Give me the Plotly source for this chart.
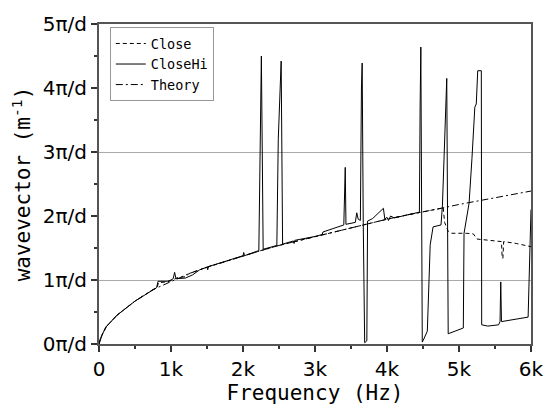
import plotly.graph_objects as go

# ---- data (frequency in Hz, wavevector in units of pi/d) ----
theory_f = [0, 20, 50, 100, 250, 500, 750, 1000, 1250, 1500, 1750, 2000, 2250, 2500,
            2750, 3000, 3250, 3500, 3750, 4000, 4250, 4500, 4750, 5000, 5250, 5500,
            5750, 6000]
theory_k = [0.0, 0.09, 0.16, 0.27, 0.45, 0.67, 0.85, 0.98, 1.10, 1.20, 1.29, 1.38,
            1.46, 1.54, 1.61, 1.68, 1.75, 1.82, 1.89, 1.95, 2.01, 2.06, 2.12, 2.18,
            2.23, 2.29, 2.34, 2.39]

close_f = [0, 20, 50, 100, 250, 500, 750, 800, 830, 950, 1000, 1100, 1200, 1250,
           1500, 1750, 2000, 2250, 2500, 2750, 3000, 3250, 3500, 3750, 4000, 4250,
           4500, 4750, 4780, 4800, 4850, 4900, 5100, 5200, 5250, 5400, 5590, 5600,
           5610, 5620, 5800, 6000]
close_k = [0.0, 0.09, 0.16, 0.27, 0.45, 0.67, 0.85, 0.87, 0.96, 0.97, 0.99, 1.04,
           1.05, 1.10, 1.20, 1.29, 1.38, 1.46, 1.54, 1.61, 1.68, 1.75, 1.82, 1.89,
           1.95, 2.01, 2.06, 2.12, 2.14, 1.90, 1.76, 1.73, 1.73, 1.72, 1.64, 1.62,
           1.60, 1.34, 1.34, 1.60, 1.57, 1.52]

closehi_f = [0, 20, 50, 100, 250, 500, 750, 800, 820, 950, 1000, 1030, 1050, 1070,
             1200, 1300, 1400, 1500, 1510, 1520, 1750, 2000, 2010, 2020, 2220, 2255,
             2280, 2470, 2490, 2530, 2550, 2700, 2710, 2720, 3000, 3100, 3110, 3400,
             3420, 3430, 3560, 3580, 3600, 3630, 3645, 3655, 3670, 3690, 3720, 3730,
             3800, 3950, 3970, 4000, 4020, 4050, 4100, 4400, 4450, 4460, 4470, 4490,
             4500, 4560, 4600, 4640, 4750, 4770, 4810, 4830, 4850, 5060, 5070, 5140,
             5180, 5220, 5240, 5260, 5310, 5315, 5400, 5550, 5570, 5580, 5590, 5700,
             5900, 5960, 6000]
closehi_k = [0.0, 0.08, 0.16, 0.27, 0.45, 0.67, 0.85, 0.88, 0.98, 0.98, 1.00, 1.02,
             1.12, 1.02, 1.03, 1.08, 1.16, 1.20, 1.16, 1.21, 1.29, 1.38, 1.43, 1.38,
             1.46, 4.50, 1.48, 1.54, 3.20, 4.42, 1.56, 1.61, 1.57, 1.62, 1.68, 1.71,
             1.75, 1.86, 2.76, 1.87, 1.90, 2.05, 1.95, 1.93, 4.00, 4.39, 1.90, 0.02,
             0.05, 1.92, 1.96, 2.12, 1.95, 1.98, 1.93, 2.00, 1.97, 2.05, 2.06, 3.70,
             4.64, 0.03, 0.05, 0.20, 1.55, 1.83, 1.86, 2.17, 3.60, 4.15, 0.16, 0.25,
             1.73, 2.20, 2.90, 3.70, 3.75, 4.27, 4.27, 0.30, 0.28, 0.30, 0.35, 0.97,
             0.35, 0.37, 0.40, 0.42, 2.10]

y_tickvals = [0, 1, 2, 3, 4, 5]
y_ticktext = ["0\u03c0/d", "1\u03c0/d", "2\u03c0/d", "3\u03c0/d", "4\u03c0/d", "5\u03c0/d"]
x_tickvals = [0, 1000, 2000, 3000, 4000, 5000, 6000]
x_ticktext = ["0", "1k", "2k", "3k", "4k", "5k", "6k"]
grid_vals = [1, 3]

mono = "DejaVu Sans Mono"
sans = "DejaVu Sans"

fig = go.Figure()
fig.add_trace(go.Scatter(x=close_f, y=close_k, name="Close", mode="lines",
                         line=dict(color="black", width=1, dash="4px,3px")))
fig.add_trace(go.Scatter(x=closehi_f, y=closehi_k, name="CloseHi", mode="lines",
                         line=dict(color="black", width=1)))
fig.add_trace(go.Scatter(x=theory_f, y=theory_k, name="Theory", mode="lines",
                         line=dict(color="black", width=1, dash="7px,3px,2px,3px")))
# invisible trace to anchor the grid axis
fig.add_trace(go.Scatter(x=[0], y=[0], yaxis="y2", showlegend=False,
                         mode="markers", marker=dict(opacity=0), hoverinfo="skip"))

fig.update_layout(
    width=546, height=405,
    margin=dict(l=99, r=15, t=24, b=61),
    paper_bgcolor="white", plot_bgcolor="white",
    showlegend=True,
    legend=dict(x=0.025, y=0.99, xanchor="left", yanchor="top",
                font=dict(family=mono, size=13.5, color="black"),
                bordercolor="#999", borderwidth=1, bgcolor="white",
                tracegroupgap=0, itemwidth=30),
    xaxis=dict(range=[0, 6000], tickvals=x_tickvals, ticktext=x_ticktext,
               automargin=False,
               showgrid=False, zeroline=False, showline=True, linecolor="#555",
               linewidth=2, mirror=True, ticks="outside", ticklen=6, tickwidth=1.5,
               tickcolor="#333",
               minor=dict(dtick=500, ticks="outside", ticklen=3, tickcolor="#333",
                          showgrid=False),
               tickfont=dict(family=sans, size=20, color="black"),
               title=dict(text="Frequency (Hz)", font=dict(family=mono, size=21, color="black"),
                          standoff=6)),
    yaxis=dict(range=[0, 5], tickvals=y_tickvals, ticktext=y_ticktext,
               automargin=False,
               showgrid=False, zeroline=False, showline=True, linecolor="#555",
               linewidth=2, mirror=True, ticks="outside", ticklen=6, tickwidth=1.5,
               tickcolor="#333",
               minor=dict(dtick=0.5, ticks="outside", ticklen=3, tickcolor="#333",
                          showgrid=False),
               tickfont=dict(family=sans, size=20, color="black"),
               title=dict(text="wavevector (m<sup>-1</sup>)",
                          font=dict(family=mono, size=21, color="black"), standoff=6)),
    yaxis2=dict(range=[0, 5], overlaying="y", tickvals=grid_vals, showgrid=True,
                gridcolor="#aaaaaa", gridwidth=1, showticklabels=False, ticks="",
                automargin=False,
                zeroline=False, showline=False, layer="below traces"),
)

fig.write_html("out.html")
